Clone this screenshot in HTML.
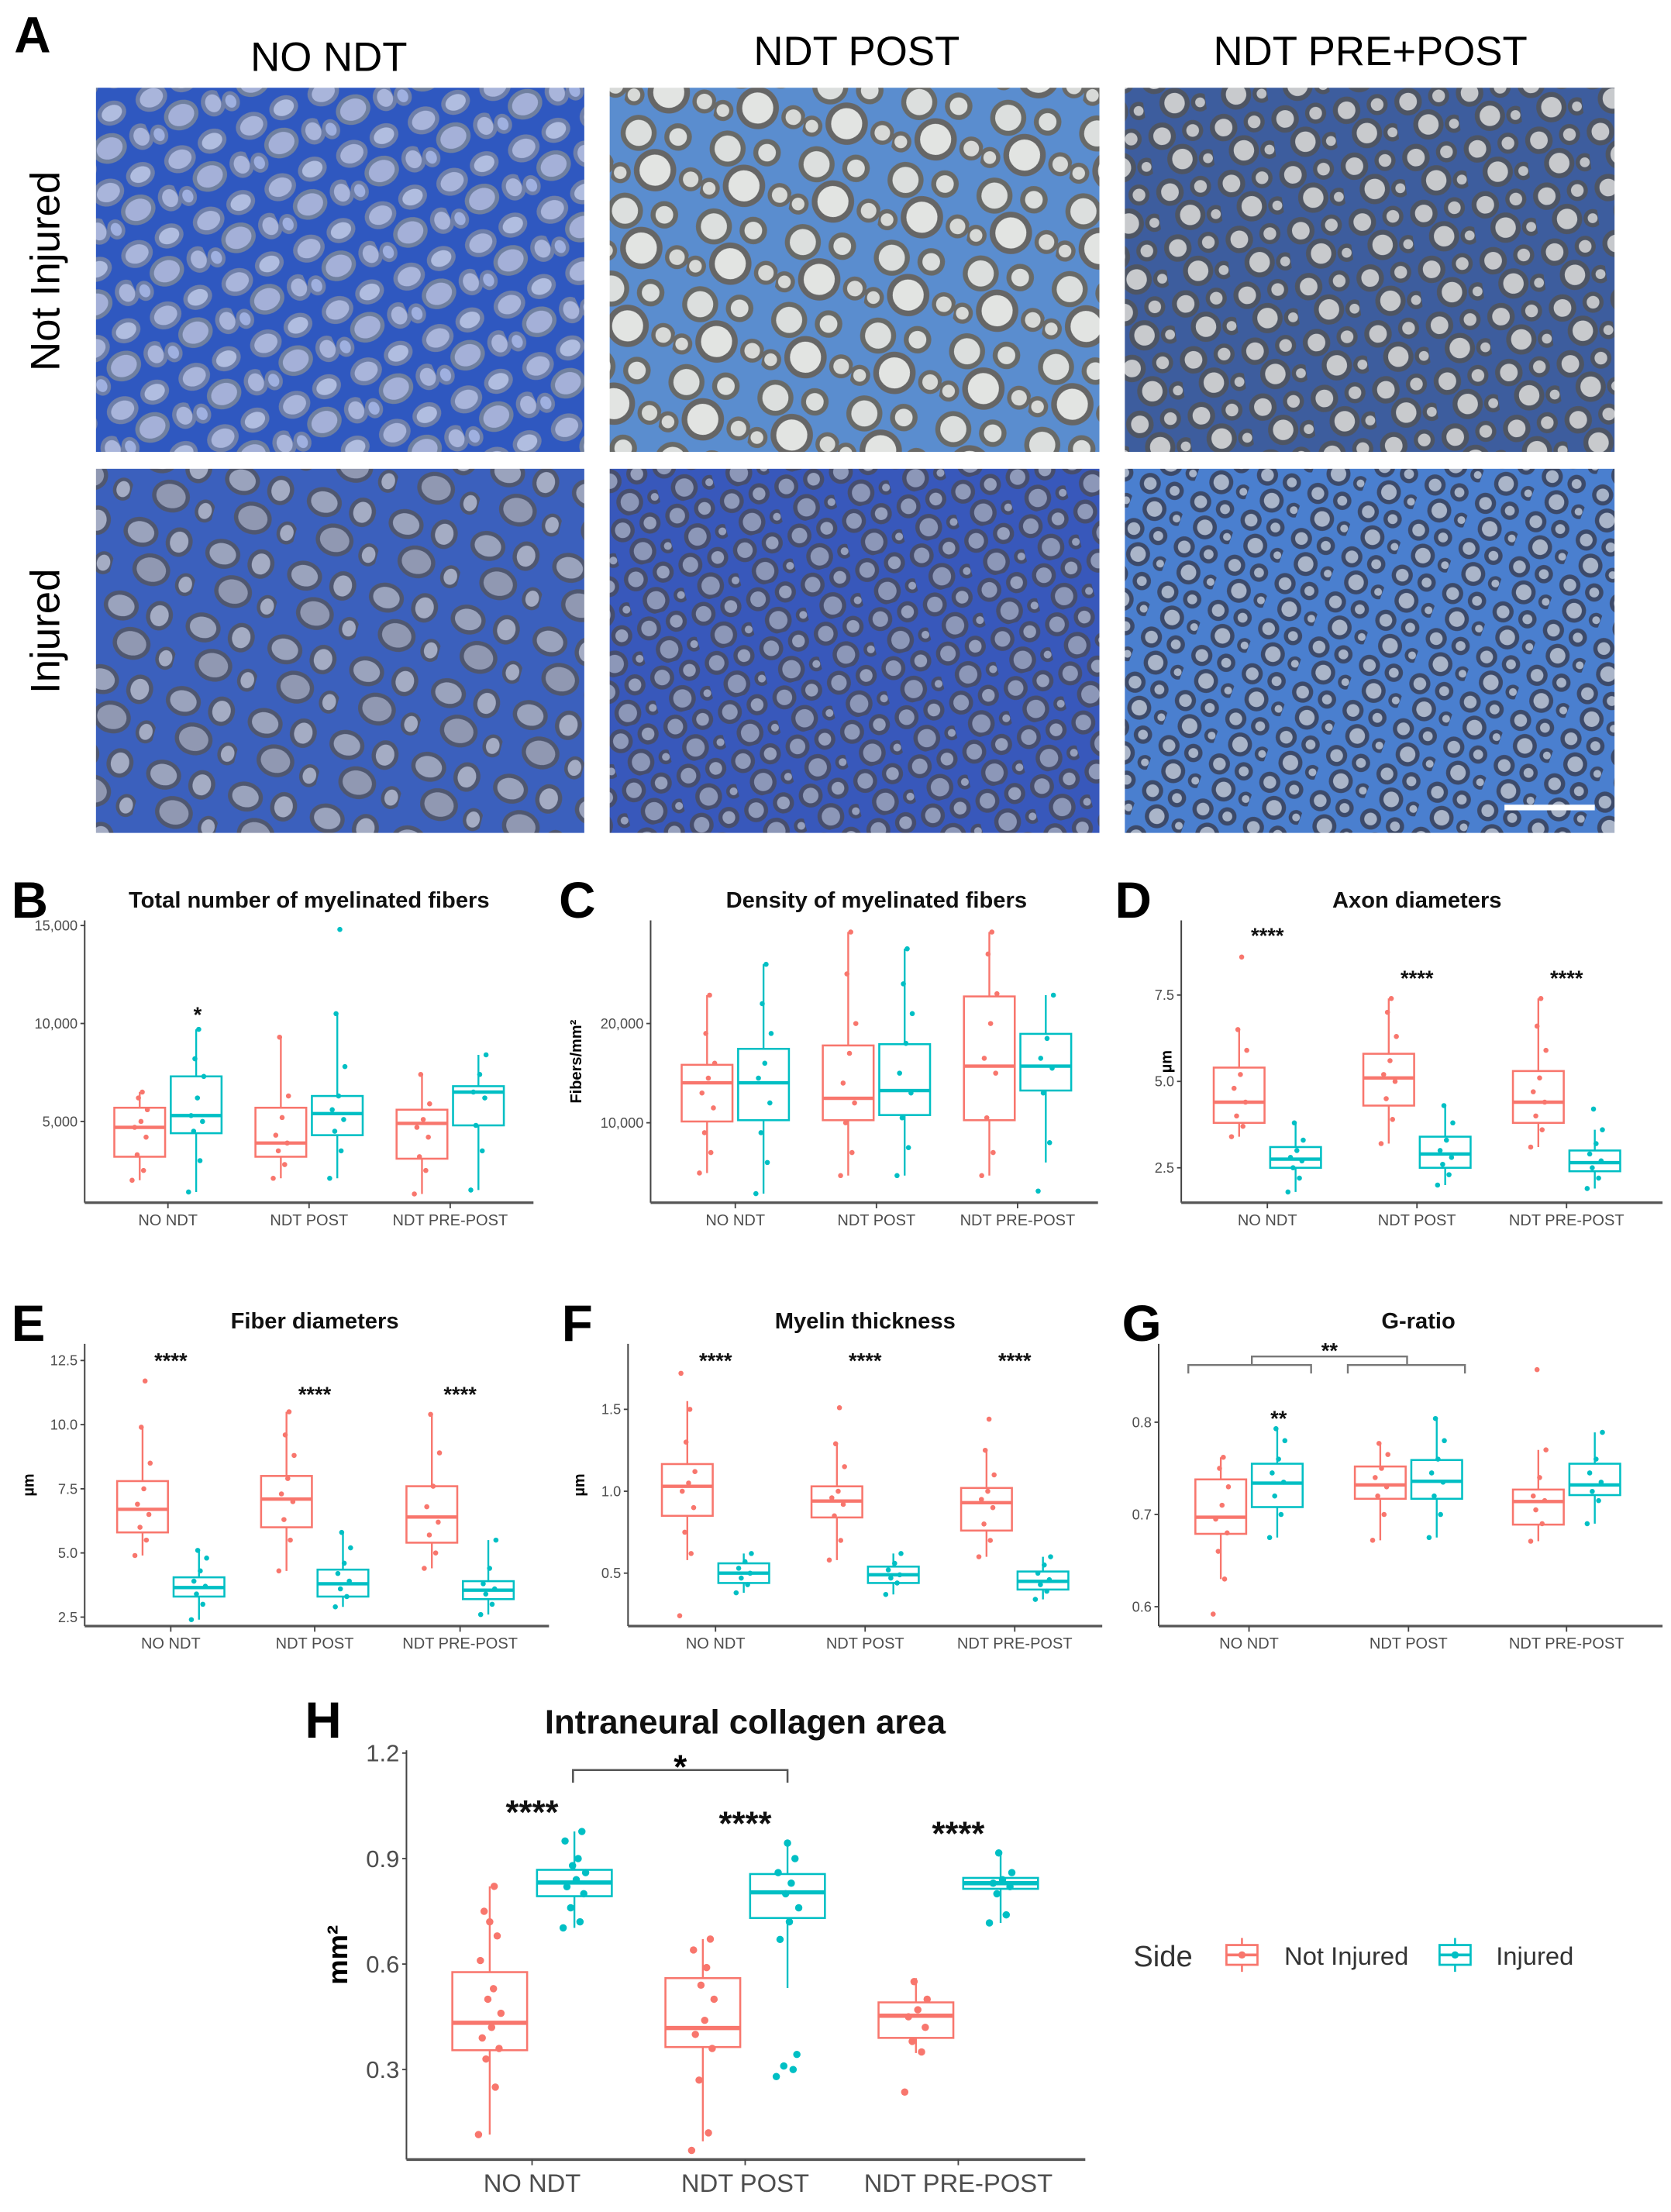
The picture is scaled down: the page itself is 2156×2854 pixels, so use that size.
<!DOCTYPE html>
<html><head><meta charset="utf-8"><style>
html,body{margin:0;padding:0;background:#fff}
svg{display:block}
text{font-family:"Liberation Sans",sans-serif}
</style></head><body>
<svg id="fig" xmlns="http://www.w3.org/2000/svg" width="2156" height="2854" viewBox="0 0 1184 1567">
<defs>
<pattern id="p1" width="56" height="48" patternUnits="userSpaceOnUse" patternTransform="rotate(-25)">
<rect width="56" height="48" fill="#2f58c0"/>
<ellipse cx="12" cy="12" rx="10" ry="8" fill="#a9b5db" stroke="#6f7fa8" stroke-width="3"/>
<ellipse cx="38" cy="10" rx="9" ry="7" fill="#b0bde0" stroke="#6f7fa8" stroke-width="3"/>
<ellipse cx="26" cy="32" rx="11" ry="9" fill="#a4b0d8" stroke="#70809f" stroke-width="3"/>
<ellipse cx="50" cy="34" rx="7" ry="8" fill="#a9b5db" stroke="#6f7fa8" stroke-width="3"/>
<ellipse cx="6" cy="38" rx="5" ry="6" fill="#9fb0e0" stroke="#6f7fa8" stroke-width="2.5"/>
</pattern>
<pattern id="p2" width="64" height="56" patternUnits="userSpaceOnUse" patternTransform="rotate(10)">
<rect width="64" height="56" fill="#5a8dcf"/>
<circle cx="14" cy="14" r="11" fill="#dcdfde" stroke="#686a68" stroke-width="3.5"/>
<circle cx="42" cy="12" r="8" fill="#dcdfde" stroke="#686a68" stroke-width="3.5"/>
<circle cx="30" cy="38" r="13" fill="#e2e4e2" stroke="#666" stroke-width="4"/>
<circle cx="56" cy="40" r="7" fill="#d8dad8" stroke="#6a6a68" stroke-width="3"/>
<circle cx="6" cy="44" r="6" fill="#d8dad8" stroke="#6a6a68" stroke-width="3"/>
</pattern>
<pattern id="p3" width="44" height="40" patternUnits="userSpaceOnUse" patternTransform="rotate(-8)">
<rect width="44" height="40" fill="#3d5d9e"/>
<circle cx="10" cy="10" r="8" fill="#c6c8cc" stroke="#4e5563" stroke-width="3.5"/>
<circle cx="32" cy="9" r="6" fill="#c2c4c8" stroke="#4e5563" stroke-width="3"/>
<circle cx="22" cy="28" r="9" fill="#c8cacd" stroke="#4e5563" stroke-width="3.5"/>
<circle cx="40" cy="30" r="5" fill="#bfc2c7" stroke="#4e5563" stroke-width="3"/>
</pattern>
<pattern id="p4" width="60" height="54" patternUnits="userSpaceOnUse" patternTransform="rotate(15)">
<rect width="60" height="54" fill="#3b60bd"/>
<ellipse cx="14" cy="14" rx="11" ry="9" fill="#9aa3bd" stroke="#4f5770" stroke-width="3"/>
<ellipse cx="42" cy="14" rx="8" ry="9" fill="#a4acc4" stroke="#4f5770" stroke-width="3"/>
<ellipse cx="28" cy="38" rx="12" ry="10" fill="#9098b2" stroke="#4f5770" stroke-width="3"/>
<ellipse cx="54" cy="42" rx="6" ry="7" fill="#a4acc4" stroke="#4f5770" stroke-width="2.5"/>
</pattern>
<pattern id="p5" width="40" height="36" patternUnits="userSpaceOnUse" patternTransform="rotate(-15)">
<rect width="40" height="36" fill="#3858bb"/>
<circle cx="9" cy="9" r="7" fill="#8f9aba" stroke="#474e6d" stroke-width="3"/>
<circle cx="29" cy="9" r="6" fill="#96a0bd" stroke="#474e6d" stroke-width="3"/>
<circle cx="19" cy="27" r="8" fill="#8c97b8" stroke="#474e6d" stroke-width="3"/>
<circle cx="37" cy="28" r="4" fill="#96a0bd" stroke="#474e6d" stroke-width="2.5"/>
</pattern>
<pattern id="p6" width="38" height="34" patternUnits="userSpaceOnUse" patternTransform="rotate(20)">
<rect width="38" height="34" fill="#4a7fcf"/>
<circle cx="9" cy="9" r="6" fill="#a7b3c8" stroke="#3c4a6a" stroke-width="3"/>
<circle cx="27" cy="8" r="5" fill="#a7b3c8" stroke="#3c4a6a" stroke-width="3"/>
<circle cx="18" cy="25" r="7" fill="#aab5c9" stroke="#3c4a6a" stroke-width="3"/>
<circle cx="35" cy="26" r="4" fill="#a7b3c8" stroke="#3c4a6a" stroke-width="2.5"/>
</pattern>
</defs>

<text x="10" y="37" font-size="36" font-weight="bold">A</text>
<text x="233" y="50" font-size="29" text-anchor="middle" font-family="DejaVu Sans, sans-serif">NO NDT</text>
<text x="607" y="46" font-size="29" text-anchor="middle" font-family="DejaVu Sans, sans-serif">NDT POST</text>
<text x="971" y="46" font-size="29" text-anchor="middle" font-family="DejaVu Sans, sans-serif">NDT PRE+POST</text>
<text transform="translate(42,192) rotate(-90)" font-size="29" text-anchor="middle" font-family="DejaVu Sans, sans-serif">Not Injured</text>
<text transform="translate(42,447) rotate(-90)" font-size="29" text-anchor="middle" font-family="DejaVu Sans, sans-serif">Injured</text>

<rect x="68" y="62" width="346" height="258" fill="url(#p1)"/>
<rect x="432" y="62" width="347" height="258" fill="url(#p2)"/>
<rect x="797" y="62" width="347" height="258" fill="url(#p3)"/>
<rect x="68" y="332" width="346" height="258" fill="url(#p4)"/>
<rect x="432" y="332" width="347" height="258" fill="url(#p5)"/>
<rect x="797" y="332" width="347" height="258" fill="url(#p6)"/>
<line x1="1066" y1="572" x2="1130" y2="572" stroke="#fff" stroke-width="4"/>

<g id="charts"></g>
</svg>
<script>
// ---------- data ----------
const categories = ["NO NDT","NDT POST","NDT PRE-POST"];
// box stats: [lower whisker, q1, median, q3, upper whisker]
const bNI  = [[2000,3200,4700,5700,6500],[2100,3200,3900,5700,9300],[1300,3100,4900,5600,7400]];
const bInj = [[1400,4400,5300,7300,9700],[2100,4300,5400,6300,10500],[1500,4800,6500,6800,8400]];
const bNIpts  = [[2000,2500,3300,4200,4700,5000,5600,6200,6500],[2100,2800,3500,3900,4300,5200,6300,9300],[1300,2500,3200,4200,4700,5100,5900,7400]];
const bInjPts = [[1400,3000,4500,5000,5300,6200,7300,8200,9700],[2100,3500,4500,5100,5600,6300,7800,10500,14800],[1500,3500,4800,6200,6500,7400,8400]];
const bTicks = [5000,10000,15000];
const bTickLabels = ["5,000","10,000","15,000"];

const cNI  = [[4940,10130,14030,15840,22860],[4680,10260,12470,17790,29220],[4680,10260,15710,22730,29220]];
const cInj = [[2860,10260,14030,17450,25970],[4680,10780,13250,17920,27530],[6000,13250,15710,18960,22860]];
const cNIpts  = [[4940,7000,9000,11500,13000,14500,16000,19000,22860],[4680,7000,10000,12000,14000,17000,20000,25000,29220],[4680,7000,10500,15000,16500,20000,23000,27000,29220]];
const cInjPts = [[2860,6000,9000,12000,14500,16000,19000,22000,25970],[4680,7500,10500,13000,15000,18000,21000,24000,27530],[3120,8000,13000,15500,16500,18500,22860]];
const cTicks = [10000,20000];
const cTickLabels = ["10,000","20,000"];

const dNI  = [[3.4,3.8,4.4,5.4,6.5],[3.2,4.3,5.1,5.8,7.4],[3.1,3.8,4.4,5.3,7.4]];
const dInj = [[1.8,2.5,2.75,3.1,3.8],[2.0,2.5,2.9,3.4,4.3],[1.9,2.4,2.65,3.0,3.6]];
const dNIpts  = [[3.4,3.7,4.0,4.4,4.8,5.2,5.9,6.5,8.6],[3.2,3.9,4.5,5.0,5.2,5.6,6.3,7.0,7.4],[3.1,3.6,4.0,4.4,4.7,5.1,5.9,6.6,7.4]];
const dInjPts = [[1.8,2.2,2.5,2.7,2.8,3.0,3.3,3.8],[2.0,2.3,2.6,2.8,3.0,3.3,3.8,4.3],[1.9,2.2,2.5,2.7,2.9,3.2,3.6,4.2]];
const dTicks = [2.5,5.0,7.5];
const dTickLabels = ["2.5","5.0","7.5"];

const eNI  = [[4.9,5.8,6.7,7.8,9.9],[4.3,6.0,7.1,8.0,10.5],[4.4,5.4,6.4,7.6,10.4]];
const eInj = [[2.4,3.3,3.65,4.05,5.1],[2.9,3.3,3.8,4.35,5.8],[2.6,3.2,3.55,3.9,5.5]];
const eNIpts  = [[4.9,5.5,6.0,6.5,6.9,7.5,8.5,9.9,11.7],[4.3,5.5,6.3,7.0,7.3,7.9,8.8,9.6,10.5],[4.4,5.0,5.7,6.2,6.8,7.6,8.9,10.4]];
const eInjPts = [[2.4,3.0,3.4,3.7,3.9,4.3,4.8,5.1],[2.9,3.3,3.6,3.9,4.2,4.6,5.2,5.8],[2.6,3.0,3.4,3.6,3.8,4.4,5.5]];
const eTicks = [2.5,5.0,7.5,10.0,12.5];
const eTickLabels = ["2.5","5.0","7.5","10.0","12.5"];

const fNI  = [[0.58,0.85,1.03,1.166,1.55],[0.58,0.84,0.94,1.03,1.29],[0.6,0.76,0.93,1.02,1.25]];
const fInj = [[0.38,0.44,0.5,0.56,0.62],[0.37,0.44,0.49,0.54,0.62],[0.34,0.40,0.45,0.51,0.6]];
const fNIpts  = [[0.24,0.62,0.75,0.9,1.0,1.05,1.12,1.3,1.5,1.72],[0.58,0.7,0.85,0.92,0.96,1.0,1.15,1.29,1.51],[0.6,0.7,0.8,0.9,0.95,1.0,1.1,1.25,1.44]];
const fInjPts = [[0.38,0.43,0.47,0.5,0.53,0.57,0.62],[0.37,0.44,0.47,0.49,0.52,0.56,0.62],[0.34,0.39,0.43,0.46,0.5,0.55,0.6]];
const fTicks = [0.5,1.0,1.5];
const fTickLabels = ["0.5","1.0","1.5"];

const gNI  = [[0.63,0.679,0.697,0.738,0.762],[0.672,0.717,0.732,0.752,0.777],[0.671,0.689,0.714,0.727,0.77]];
const gInj = [[0.675,0.708,0.734,0.755,0.793],[0.675,0.717,0.736,0.759,0.804],[0.69,0.721,0.732,0.755,0.789]];
const gNIpts  = [[0.592,0.63,0.66,0.68,0.695,0.71,0.73,0.75,0.762],[0.672,0.7,0.72,0.73,0.74,0.75,0.765,0.777],[0.671,0.69,0.705,0.715,0.72,0.74,0.77,0.857]];
const gInjPts = [[0.675,0.7,0.72,0.735,0.745,0.76,0.78,0.793],[0.675,0.7,0.72,0.735,0.745,0.76,0.78,0.804],[0.69,0.715,0.725,0.735,0.745,0.76,0.789]];
const gTicks = [0.6,0.7,0.8];
const gTickLabels = ["0.6","0.7","0.8"];

const hNI  = [[0.115,0.355,0.433,0.577,0.821],[0.096,0.364,0.418,0.56,0.671],[0.347,0.39,0.453,0.491,0.56]];
const hInj = [[0.703,0.793,0.832,0.868,0.977],[0.532,0.731,0.804,0.856,0.944],[0.717,0.814,0.83,0.845,0.916]];
const hNIpts  = [[0.115,0.25,0.33,0.36,0.39,0.42,0.46,0.5,0.53,0.61,0.68,0.72,0.75,0.821],[0.07,0.12,0.27,0.36,0.4,0.44,0.5,0.54,0.59,0.64,0.671],[0.236,0.35,0.38,0.42,0.45,0.47,0.5,0.55]];
const hInjPts = [[0.703,0.72,0.76,0.8,0.82,0.84,0.86,0.88,0.9,0.95,0.977],[0.28,0.3,0.31,0.343,0.67,0.72,0.76,0.8,0.83,0.86,0.9,0.944],[0.717,0.74,0.8,0.82,0.83,0.84,0.86,0.916]];
const hTicks = [0.3,0.6,0.9,1.2];
const hTickLabels = ["0.3","0.6","0.9","1.2"];

const legendLabels = ["Not Injured","Injured"];

// ---------- drawing ----------
const NS = "http://www.w3.org/2000/svg";
const root = document.getElementById("charts");
const NI_COL = "#F8766D", INJ_COL = "#00BFC4";
const jit = [-0.3,0.15,-0.1,0.25,-0.2,0.05,0.3,-0.05,0.1,-0.25,0.2,0,-0.15,0.12];

function mk(tag, attrs, parent){
  const e = document.createElementNS(NS, tag);
  for (const k in attrs) e.setAttribute(k, attrs[k]);
  (parent || root).appendChild(e);
  return e;
}

function chart(cfg){
  const g = mk("g", {});
  
  
  const y = v => cfg.y1 - (v - cfg.vmin) / (cfg.vmax - cfg.vmin) * (cfg.y1 - cfg.y0);
  const ya = mk("line", {x1:cfg.x0, y1:cfg.y0, x2:cfg.x0, y2:cfg.y1, stroke:"#444", "stroke-width":1.1}, g);
  
  
  const xa = mk("line", {x1:cfg.x0, y1:cfg.y1, x2:cfg.x1, y2:cfg.y1, stroke:"#555", "stroke-width":cfg.big?2:1.8}, g);
  
  
  cfg.ticks.forEach((t,i)=>{
    const ty = y(t);
    const tk = mk("line", {x1:cfg.x0-3, y1:ty, x2:cfg.x0, y2:ty, stroke:"#444", "stroke-width":1}, g);
    
    
    const tl = mk("text", {x:cfg.x0-5, y:ty+cfg.tfs*0.35, "font-size":cfg.tfs, fill:"#4d4d4d", "text-anchor":"end"}, g);
    tl.textContent = cfg.tickLabels[i];
    
    
  });
  categories.forEach((c,i)=>{
    const cx = cfg.cx[i];
    const tk = mk("line", {x1:cx, y1:cfg.y1, x2:cx, y2:cfg.y1+4, stroke:"#444", "stroke-width":1}, g);
    
    
    const tl = mk("text", {x:cx, y:cfg.y1+cfg.xfs+5, "font-size":cfg.xfs, fill:"#4d4d4d", "text-anchor":"middle"}, g);
    tl.textContent = c;
    
    
    [[cfg.ni, cfg.niPts, NI_COL, -1, 'not-injured'],[cfg.inj, cfg.injPts, INJ_COL, 1, 'injured']].forEach(s=>{
      const st = s[0][i], bx = cx + s[3]*cfg.off, hw = cfg.bw/2;
      const wl = mk("line", {x1:bx, y1:y(st[0]), x2:bx, y2:y(st[4]), stroke:s[2], "stroke-width":1.3}, g);
      
      
      const bxr = mk("rect", {x:bx-hw, y:y(st[3]), width:cfg.bw, height:y(st[1])-y(st[3]), fill:"#fff", stroke:s[2], "stroke-width":1.4}, g);
      
      
      const md = mk("line", {x1:bx-hw, y1:y(st[2]), x2:bx+hw, y2:y(st[2]), stroke:s[2], "stroke-width":cfg.big?3:2.4}, g);
      
      
      s[1][i].forEach((v,j)=>{
        const p = mk("circle", {cx:bx + jit[j%jit.length]*cfg.bw*0.5, cy:y(v), r:cfg.pr, fill:s[2]}, g);
        
        
      });
    });
  });
  const tt = mk("text", {x:cfg.tx, y:cfg.ty, "font-size":cfg.tts, "font-weight":"bold", "text-anchor":"middle", fill:"#111"}, g);
  tt.textContent = cfg.title;
  
  
  const pl = mk("text", {x:cfg.lx, y:cfg.ly, "font-size":cfg.lfs, "font-weight":"bold", fill:"#000"}, g);
  pl.textContent = cfg.letter;
  
  
  if (cfg.ylab){
    const yl = mk("text", {transform:"translate("+cfg.ylx+","+((cfg.y0+cfg.y1)/2)+") rotate(-90)", "font-size":cfg.yls, "font-weight":"bold", "text-anchor":"middle"}, g);
    yl.textContent = cfg.ylab;
    
    
  }
  (cfg.stars||[]).forEach(s=>{
    const st = mk("text", {x:s[0], y:s[1], "font-size":cfg.sfs, "font-weight":"bold", "text-anchor":"middle", fill:"#111"}, g);
    st.textContent = s[2];
    
    
  });
  return g;
}

const small = {tfs:10, xfs:11, tts:16, lfs:36, pr:1.8, bw:36, off:20, sfs:15, yls:11};
chart(Object.assign({}, small, {name:"chart-b-total-fibers", letter:"B", lx:8, ly:650, title:"Total number of myelinated fibers", tx:219, ty:643,
  x0:60, x1:378, y0:652, y1:852, vmin:855, vmax:15260, cx:[119,219,319], ticks:bTicks, tickLabels:bTickLabels,
  ni:bNI, inj:bInj, niPts:bNIpts, injPts:bInjPts, stars:[[140,724,"*"]]}));
chart(Object.assign({}, small, {name:"chart-c-density", letter:"C", lx:396, ly:650, title:"Density of myelinated fibers", tx:621, ty:643,
  x0:461, x1:778, y0:652, y1:852, vmin:1950, vmax:30390, cx:[521,621,721], ticks:cTicks, tickLabels:cTickLabels,
  ni:cNI, inj:cInj, niPts:cNIpts, injPts:cInjPts, ylab:"Fibers/mm²", ylx:412}));
chart(Object.assign({}, small, {name:"chart-d-axon-diameters", letter:"D", lx:790, ly:650, title:"Axon diameters", tx:1004, ty:643,
  x0:837, x1:1178, y0:652, y1:852, vmin:1.49, vmax:9.66, cx:[898,1004,1110], ticks:dTicks, tickLabels:dTickLabels,
  ni:dNI, inj:dInj, niPts:dNIpts, injPts:dInjPts, ylab:"µm", ylx:830,
  stars:[[898,668,"****"],[1004,698,"****"],[1110,698,"****"]]}));
chart(Object.assign({}, small, {name:"chart-e-fiber-diameters", letter:"E", lx:8, ly:950, title:"Fiber diameters", tx:223, ty:941,
  x0:60, x1:389, y0:952, y1:1152, vmin:2.15, vmax:13.15, cx:[121,223,326], ticks:eTicks, tickLabels:eTickLabels,
  ni:eNI, inj:eInj, niPts:eNIpts, injPts:eInjPts, ylab:"µm", ylx:24,
  stars:[[121,969,"****"],[223,993,"****"],[326,993,"****"]]}));
chart(Object.assign({}, small, {name:"chart-f-myelin-thickness", letter:"F", lx:398, ly:950, title:"Myelin thickness", tx:613, ty:941,
  x0:445, x1:781, y0:952, y1:1152, vmin:0.177, vmax:1.90, cx:[507,613,719], ticks:fTicks, tickLabels:fTickLabels,
  ni:fNI, inj:fInj, niPts:fNIpts, injPts:fInjPts, ylab:"µm", ylx:414,
  stars:[[507,969,"****"],[613,969,"****"],[719,969,"****"]]}));
const gG = chart(Object.assign({}, small, {name:"chart-g-g-ratio", letter:"G", lx:795, ly:950, title:"G-ratio", tx:1005, ty:941,
  x0:821, x1:1178, y0:952, y1:1152, vmin:0.579, vmax:0.885, cx:[885,998,1110], ticks:gTicks, tickLabels:gTickLabels,
  ni:gNI, inj:gInj, niPts:gNIpts, injPts:gInjPts,
  stars:[[906,1010,"**"],[942,962,"**"]]}));
const br1 = mk("path", {d:"M842,973 V967 H929 V973 M955,973 V967 H1038 V973 M887,967 V961 H997 V967", fill:"none", stroke:"#777", "stroke-width":1.3}, gG);



const gH = chart({name:"chart-h-collagen", letter:"H", lx:216, ly:1231, title:"Intraneural collagen area", tx:528, ty:1228,
  tfs:17, xfs:18, tts:24, lfs:36, pr:2.6, bw:53, off:30, sfs:24, yls:20, big:true,
  x0:288, x1:769, y0:1240, y1:1530, vmin:0.044, vmax:1.208, cx:[377,528,679], ticks:hTicks, tickLabels:hTickLabels,
  ni:hNI, inj:hInj, niPts:hNIpts, injPts:hInjPts, ylab:"mm²", ylx:246,
  stars:[[377,1292,"****"],[528,1300,"****"],[679,1307,"****"]]});
const br2 = mk("path", {d:"M406,1263 V1254 H558 V1263", fill:"none", stroke:"#555", "stroke-width":1.4}, gH);


const bs = mk("text", {x:482, y:1260, "font-size":24, "font-weight":"bold", "text-anchor":"middle"}, gH);
bs.textContent = "*";



// legend
const lg = mk("g", {});


const lt = mk("text", {x:803, y:1393, "font-size":21, fill:"#333"}, lg);
lt.textContent = "Side";


const legendKeyX = [866, 1017];
const legendTextX = [910, 1060];
const legendCols = [NI_COL, INJ_COL];
legendLabels.forEach((lab, i)=>{
  const kx = legendKeyX[i], col = legendCols[i];
  const kg = mk("g", {}, lg);
  
  
  mk("line", {x1:kx+14, y1:1373, x2:kx+14, y2:1397, stroke:col, "stroke-width":1.4}, kg);
  mk("rect", {x:kx+3, y:1378, width:22, height:14, fill:"#fff", stroke:col, "stroke-width":1.5}, kg);
  mk("line", {x1:kx+3, y1:1385, x2:kx+25, y2:1385, stroke:col, "stroke-width":2}, kg);
  mk("circle", {cx:kx+14, cy:1385, r:2.6, fill:col}, kg);
  const t = mk("text", {x:legendTextX[i], y:1392, "font-size":18, fill:"#333"}, kg);
  t.textContent = lab;
  
  
});
</script>
</body></html>
